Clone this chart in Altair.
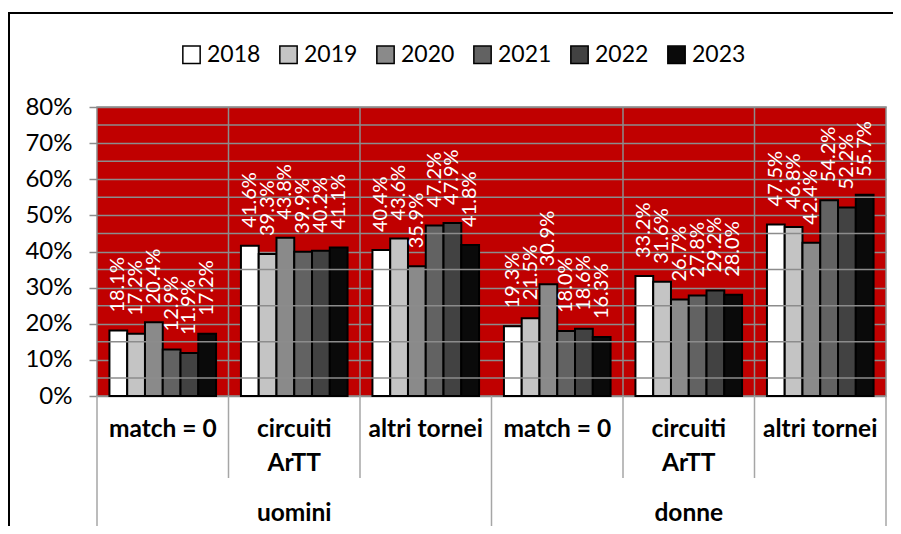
import altair as alt
import pandas as pd

groups = ["uomini", "donne"]
subcats = ["match = 0", "circuiti\nArTT", "altri tornei"]
years = ["2018", "2019", "2020", "2021", "2022", "2023"]
colors = ["#ffffff", "#c4c4c4", "#8a8a8a", "#626262", "#424242", "#0a0a0a"]

uomini_match0 = [18.1, 17.2, 20.4, 12.9, 11.9, 17.2]
uomini_circuiti = [41.6, 39.3, 43.8, 39.9, 40.2, 41.1]
uomini_altri = [40.4, 43.6, 35.9, 47.2, 47.9, 41.8]
donne_match0 = [19.3, 21.5, 30.9, 18.0, 18.6, 16.3]
donne_circuiti = [33.2, 31.6, 26.7, 27.8, 29.2, 28.0]
donne_altri = [47.5, 46.8, 42.4, 54.2, 52.2, 55.7]

y_ticks = [0, 10, 20, 30, 40, 50, 60, 70, 80]
minor_grid = [5, 15, 25, 35, 45, 55, 65, 75]

series = {
    ("uomini", "match = 0"): uomini_match0,
    ("uomini", "circuiti\nArTT"): uomini_circuiti,
    ("uomini", "altri tornei"): uomini_altri,
    ("donne", "match = 0"): donne_match0,
    ("donne", "circuiti\nArTT"): donne_circuiti,
    ("donne", "altri tornei"): donne_altri,
}

keys = [f"{g}|{s}" for g in groups for s in subcats]
rows = []
for g in groups:
    for s in subcats:
        for yr, v in zip(years, series[(g, s)]):
            rows.append({"key": f"{g}|{s}", "year": yr, "value": v, "label": f"{v:.1f}%"})
df = pd.DataFrame(rows)

cat_df = pd.DataFrame({"key": keys, "sub": [k.split("|")[1] for k in keys]})
grp_df = pd.DataFrame({"key": [f"{g}|{subcats[1]}" for g in groups], "grp": groups})
inner_df = pd.DataFrame({"key": [f"{g}|{s}" for g in groups for s in subcats[1:]]})
outer_df = pd.DataFrame({"key": [f"{g}|{subcats[0]}" for g in groups]})
last_df = pd.DataFrame({"key": [keys[-1]]})
minor_df = pd.DataFrame({"value": minor_grid})
one_df = pd.DataFrame({"a": [0]})

W, H = 789, 289
FONT = "Lato"

xscale = alt.Scale(domain=keys, paddingInner=0, paddingOuter=0)
yscale = alt.Scale(domain=[0, 80], nice=False)
offscale = alt.Scale(domain=years, paddingInner=0, paddingOuter=0.7)
yaxis = alt.Axis(values=y_ticks, labelExpr="datum.value + '%'", grid=True,
                 gridColor="#8c8c8c", gridWidth=1.5, tickColor="#8c8c8c",
                 tickSize=8, tickWidth=1.5, domain=False, labelFontSize=24,
                 labelFont=FONT, labelColor="black", labelPadding=17,
                 labelOverlap=False, labelFlush=False, title=None)

def X(**kw):
    return alt.X("key:N", scale=xscale, axis=None, **kw)

def Y():
    return alt.Y("value:Q", scale=yscale, axis=yaxis, title=None)

bars = alt.Chart(df).mark_bar(stroke="black", strokeWidth=2).encode(
    x=X(),
    xOffset=alt.XOffset("year:N", scale=offscale),
    y=Y(),
    fill=alt.Fill("year:N", scale=alt.Scale(domain=years, range=colors),
                  legend=alt.Legend(title=None, orient="none", direction="horizontal",
                                    legendX=83, legendY=-64, symbolType="square",
                                    symbolSize=300, symbolStrokeColor="black",
                                    symbolStrokeWidth=1.5, labelFontSize=23, labelFont=FONT,
                                    labelColor="black", labelOffset=4, columnPadding=15)),
)

labels = alt.Chart(df).mark_text(angle=270, align="left", baseline="middle", dx=18,
                                 color="white", fontSize=20, font=FONT).encode(
    x=X(),
    xOffset=alt.XOffset("year:N", scale=offscale),
    y=Y(),
    text="label:N",
)

minor = alt.Chart(minor_df).mark_rule(color="#8c8c8c", strokeWidth=1.5).encode(
    y=Y(),
)

vgrid = alt.Chart(inner_df).mark_rule(color="#8c8c8c", strokeWidth=1.5).encode(
    x=X(bandPosition=0), y=alt.value(0), y2=alt.value(H),
)

inner_sep = alt.Chart(inner_df).mark_rule(color="#a6a6a6", strokeWidth=1.5).encode(
    x=X(bandPosition=0), y=alt.value(H), y2=alt.value(H + 82),
)
outer_sep = alt.Chart(outer_df).mark_rule(color="#a6a6a6", strokeWidth=1.5).encode(
    x=X(bandPosition=0), y=alt.value(H), y2=alt.value(H + 145),
)
last_sep = alt.Chart(last_df).mark_rule(color="#a6a6a6", strokeWidth=1.5).encode(
    x=X(bandPosition=1), y=alt.value(H), y2=alt.value(H + 145),
)

cat_text = alt.Chart(cat_df).mark_text(baseline="top", fontSize=24.5, font=FONT, fontWeight="bold",
                                       color="black", lineBreak="\n", lineHeight=34).encode(
    x=X(), y=alt.value(H + 22), text="sub:N",
)
grp_text = alt.Chart(grp_df).mark_text(baseline="middle", fontSize=24.5, font=FONT, fontWeight="bold",
                                       color="black").encode(
    x=X(), y=alt.value(H + 118), text="grp:N",
)

frame = alt.Chart(one_df).mark_rect(fill="transparent", stroke="black", strokeWidth=2).encode(
    x=alt.value(-88), x2=alt.value(W + 60), y=alt.value(-94), y2=alt.value(H + 200),
)

chart = alt.layer(bars, minor, vgrid, labels, inner_sep, outer_sep, last_sep,
                  cat_text, grp_text, frame).properties(
    width=W, height=H,
    padding={"left": 89, "top": 99, "right": 7, "bottom": 130},
    autosize=alt.AutoSizeParams(type="none"),
    background="white",
).configure_view(fill="#c00000", stroke="#8c8c8c", strokeWidth=1.5)

chart.save("out.html", embed_options={"renderer": "svg", "actions": False})
